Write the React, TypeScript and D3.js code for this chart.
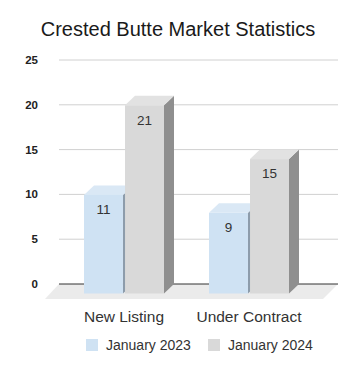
import React from "react";
import * as d3 from "d3";

const categories = ["New Listing", "Under Contract"];
const seriesNames = ["January 2023", "January 2024"];
const jan2023 = [11, 9];
const jan2024 = [21, 15];
const yTicks = [0, 5, 10, 15, 20, 25];

const W = 356;
const H = 370;
const DX = 10;
const DY = 9.5;
const FONT = "Arial, 'Liberation Sans', sans-serif";

const fronts = ["#cfe2f3", "#d9d9d9"];
const tops = ["#dae8f5", "#e2e2e2"];
const sides = ["#8d9cab", "#8f8f8f"];

export default function App() {
  const y = d3.scaleLinear().domain([0, 25]).range([284, 60]);
  const x0 = d3
    .scaleBand<string>()
    .domain(categories)
    .range([61.5, 311.5])
    .paddingInner(0.36)
    .paddingOuter(0.18);
  const x1 = d3
    .scaleBand<string>()
    .domain(seriesNames)
    .range([0, x0.bandwidth()])
    .paddingInner(0.05);
  const values = [jan2023, jan2024];
  const gridLeft = 59;
  const gridRight = 338;
  const base = y(0);

  const bars: any[] = [];
  categories.forEach((c, ci) => {
    seriesNames.forEach((s, si) => {
      const v = values[si][ci];
      const xl = (x0(c) as number) + (x1(s) as number);
      const xr = xl + x1.bandwidth();
      const ft = y(v) + DY;
      const fb = base + DY;
      bars.push({ key: c + s, si, v, xl, xr, ft, fb });
    });
  });

  return (
    <svg width={W} height={H} style={{ position: "absolute", left: 0, top: 0 }}>
      <rect width={W} height={H} fill="#ffffff" />
      <text
        x={178}
        y={36}
        textAnchor="middle"
        fontFamily={FONT}
        fontSize={20}
        fill="#1a1a1a"
      >
        Crested Butte Market Statistics
      </text>
      {yTicks.map((t) => (
        <g key={t}>
          {t !== 0 && (
            <line
              x1={gridLeft}
              x2={gridRight}
              y1={y(t)}
              y2={y(t)}
              stroke="#d0d0d0"
              strokeWidth={1}
            />
          )}
          <text
            x={38}
            y={y(t)}
            dy="0.35em"
            textAnchor="end"
            fontFamily={FONT}
            fontSize={11.5}
            fontWeight="bold"
            fill="#222"
          >
            {t}
          </text>
        </g>
      ))}
      <polygon
        points={`${gridLeft},${base} ${gridRight},${base} ${gridRight - 15},${base + 15} ${gridLeft - 14},${base + 15}`}
        fill="#ebebeb"
      />
      <line x1={gridLeft} x2={gridRight} y1={base} y2={base} stroke="#333" strokeWidth={1} />
      {bars.map((b) => (
        <g key={b.key}>
          <polygon
            points={`${b.xr},${b.ft} ${b.xr + DX},${b.ft - DY} ${b.xr + DX},${b.fb - DY} ${b.xr},${b.fb}`}
            fill={sides[b.si]}
          />
          <polygon
            points={`${b.xl},${b.ft} ${b.xl + DX},${b.ft - DY} ${b.xr + DX},${b.ft - DY} ${b.xr},${b.ft}`}
            fill={tops[b.si]}
          />
          <rect x={b.xl} y={b.ft} width={b.xr - b.xl} height={b.fb - b.ft} fill={fronts[b.si]} />
          <text
            x={(b.xl + b.xr) / 2}
            y={b.ft + 14.5}
            dy="0.35em"
            textAnchor="middle"
            fontFamily={FONT}
            fontSize={13.5}
            fill="#333"
          >
            {b.v}
          </text>
        </g>
      ))}
      {categories.map((c) => (
        <text
          key={c}
          x={(x0(c) as number) + x0.bandwidth() / 2}
          y={322}
          textAnchor="middle"
          fontFamily={FONT}
          fontSize={15.5}
          fill="#333"
        >
          {c}
        </text>
      ))}
      {seriesNames.map((s, i) => {
        const lx = i === 0 ? 86 : 208;
        return (
          <g key={s}>
            <rect x={lx} y={339} width={12} height={12} fill={fronts[i]} />
            <text x={lx + 20} y={349.5} fontFamily={FONT} fontSize={14} fill="#333">
              {s}
            </text>
          </g>
        );
      })}
    </svg>
  );
}
